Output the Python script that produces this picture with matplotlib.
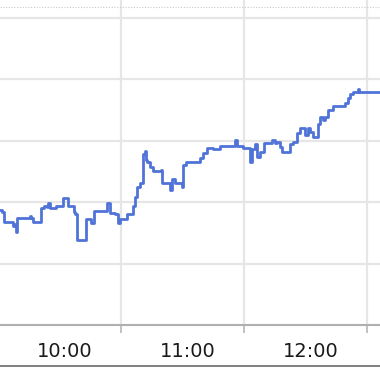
import matplotlib
matplotlib.use("Agg")
import matplotlib.pyplot as plt
from matplotlib.lines import Line2D
from matplotlib.transforms import ScaledTranslation

# minutos desde las 9:30 y precio
minutos = [0.0, 2.0, 3.0, 6.9, 7.3, 8.3, 8.8, 9.3, 15.1, 15.6, 16.1, 17.1, 20.5, 21.0,
           22.5, 23.9, 24.4, 25.4, 27.8, 28.3, 30.3, 31.7, 33.7, 34.2, 36.6, 37.1,
           37.6, 38.6, 42.5, 43.0, 44.9, 45.4, 46.4, 46.9, 52.2, 53.2, 54.7, 57.1,
           58.6, 59.5, 63.0, 64.4, 65.9, 66.9, 67.8, 69.3, 70.3, 70.8, 71.7, 72.2,
           72.7, 74.2, 75.6, 79.0, 79.5, 80.0, 83.0, 83.9, 84.9, 86.4, 88.8, 89.8,
           90.3, 91.7, 97.1, 98.6, 100.0, 102.0, 104.9, 107.3, 108.3, 114.7, 115.6,
           116.6, 119.0, 119.5, 122.0, 123.0, 123.9, 125.4, 126.4, 127.8, 129.3,
           129.8, 132.7, 133.7, 135.1, 136.1, 137.6, 138.5, 141.5, 142.5, 143.9,
           145.4, 145.9, 147.3, 148.8, 149.8, 150.8, 151.2, 152.2, 153.7, 155.1,
           156.1, 157.1, 158.6, 159.5, 161.0, 163.4, 166.9, 169.3, 170.8, 171.7,
           173.2, 174.7, 175.6, 176.1, 190.0]
precio = [40.94, 40.92, 40.84, 40.84, 40.81, 40.82, 40.76, 40.87, 40.87, 40.89, 40.87,
          40.84, 40.84, 40.95, 40.97, 40.96, 40.99, 40.95, 40.95, 40.97, 40.97, 41.03,
          41.03, 40.97, 40.97, 40.92, 40.90, 40.69, 40.69, 40.86, 40.86, 40.83, 40.83,
          40.93, 40.93, 40.99, 40.91, 40.90, 40.83, 40.86, 40.90, 40.90, 40.97, 41.04,
          41.12, 41.16, 41.16, 41.39, 41.42, 41.34, 41.33, 41.29, 41.25, 41.25, 41.26,
          41.16, 41.16, 41.10, 41.19, 41.16, 41.16, 41.12, 41.30, 41.33, 41.33, 41.36,
          41.40, 41.44, 41.43, 41.43, 41.46, 41.46, 41.51, 41.46, 41.46, 41.44, 41.44,
          41.33, 41.43, 41.47, 41.37, 41.41, 41.41, 41.48, 41.48, 41.51, 41.48, 41.49,
          41.45, 41.41, 41.41, 41.47, 41.49, 41.49, 41.56, 41.60, 41.60, 41.55, 41.55,
          41.60, 41.57, 41.53, 41.53, 41.64, 41.69, 41.67, 41.69, 41.75, 41.78, 41.78,
          41.81, 41.85, 41.88, 41.90, 41.90, 41.92, 41.90, 41.90]

etiquetas = ["10:00", "11:00", "12:00"]
pos_etiquetas = [30, 90, 150]
pos_grid_x = [60, 120, 180]
pos_grid_y = [40.5, 41.0, 41.5, 42.0, 42.5]

fig = plt.figure(figsize=(3.8, 3.72), dpi=100)
ax = fig.add_axes([0, 47 / 372, 1, 325 / 372])

ax.plot(minutos, precio, color="#5073d8", lw=2.0, drawstyle="steps-post")

ax.set_xlim(1.0, 186.4)
ax.set_ylim(40.0, 42.646)

# grilla
ax.set_xticks(pos_grid_x, minor=True)
ax.set_yticks(pos_grid_y)
ax.grid(True, which="minor", axis="x", color="#e6e6e6", lw=1.6)
ax.grid(True, which="major", axis="y", color="#e6e6e6", lw=1.6)
ax.set_axisbelow(True)

ax.set_xticks(pos_etiquetas)
ax.set_xticklabels(etiquetas, fontsize=14, color="#1a1a1a")
ax.tick_params(axis="x", which="major", length=0, pad=12)
ax.tick_params(axis="x", which="minor", length=6, width=1.2, color="#b8b8b8")
ax.tick_params(axis="y", length=0, labelleft=False)
for lab in ax.get_xticklabels():
    lab.set_transform(lab.get_transform() + ScaledTranslation(0.05, 0, fig.dpi_scale_trans))

for lado in ["top", "left", "right"]:
    ax.spines[lado].set_visible(False)
ax.spines["bottom"].set_color("#b0b0b0")
ax.spines["bottom"].set_linewidth(1.5)

# lineas del marco
fig.add_artist(Line2D([0, 1], [1 - 6.5 / 372] * 2, color="#c8c8c8", lw=0.8, ls=(0, (1, 1.5))))
fig.add_artist(Line2D([0, 1], [1 - 366 / 372] * 2, color="#6a6a6a", lw=1.2))

plt.savefig("out.png", dpi=100)
